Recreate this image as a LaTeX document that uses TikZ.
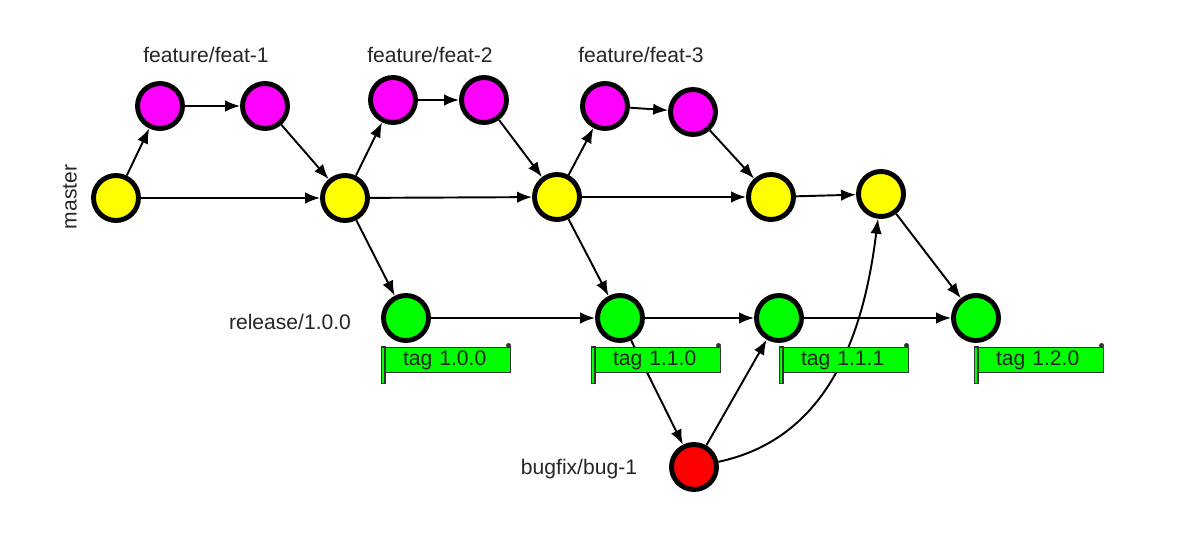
\documentclass[tikz,border=0pt]{standalone}
\usepackage{fontspec}
\setmainfont{Liberation Sans}
\usetikzlibrary{arrows.meta}
\definecolor{cy}{HTML}{FFFF00}
\definecolor{cm}{HTML}{FF00FF}
\definecolor{cg}{HTML}{00FF00}
\definecolor{cr}{HTML}{FF0000}
\tikzset{
  commit/.style={circle, draw=black, line width=2.8pt, minimum size=0.9cm, inner sep=0pt},
  mst/.style={commit, fill=cy},
  fea/.style={commit, fill=cm},
  rel/.style={commit, fill=cg},
  bug/.style={commit, fill=cr},
  edge/.style={line width=1.1pt, -{Latex[length=3mm,width=2.3mm]}},
  lbl/.style={font=\fontsize{12}{14}\selectfont, text=black!85},
  tagbox/.style={draw=black!80, line width=0.6pt, fill=cg, text width=2.5cm, minimum height=0.5cm, inner xsep=0pt, inner ysep=0pt, anchor=north west, align=left, font=\fontsize{12}{14}\selectfont, text=black!85},
}
\newcommand\tagdeco[1]{%
  \draw[black!80, line width=0.6pt, fill=cg] ([xshift=-0.07cm]#1.north west) rectangle ([yshift=-0.2cm]#1.south west);
  \fill[black!80] ([xshift=-0.05cm,yshift=0.03cm]#1.north east) circle (0.05cm);
}
\begin{document}
\begin{tikzpicture}[x=0.02cm, y=-0.02cm]
\useasboundingbox[fill=white] (0,0) rectangle (1200,540);
% master
\node[mst] (m0) at (116,198) {};
\node[mst] (m1) at (345,198) {};
\node[mst] (m2) at (557,197) {};
\node[mst] (m3) at (771,197) {};
\node[mst] (m4) at (881,194) {};
% features
\node[fea] (f1a) at (160,106) {};
\node[fea] (f1b) at (265,106) {};
\node[fea] (f2a) at (393,100) {};
\node[fea] (f2b) at (484,100) {};
\node[fea] (f3a) at (605,106) {};
\node[fea] (f3b) at (693,112) {};
% release
\node[rel] (r0) at (406,318) {};
\node[rel] (r1) at (620,318) {};
\node[rel] (r2) at (779,318) {};
\node[rel] (r3) at (976,318) {};
% bugfix
\node[bug] (b0) at (694,467) {};
% labels
\node[lbl] (lf1) at (206,55) {feature/feat-1};
\node[lbl] (lf2) at (430,55) {feature/feat-2};
\node[lbl] (lf3) at (641,55) {feature/feat-3};
\node[lbl, rotate=90] (lm) at (70,197) {master};
\node[lbl] (lr) at (290,322) {release/1.0.0};
\node[lbl] (lb) at (579,469) {bugfix/bug-1};
% edges
\draw[edge] (m0) -- (f1a);
\draw[edge] (f1a) -- (f1b);
\draw[edge] (f1b) -- (m1);
\draw[edge] (m0) -- (m1);
\draw[edge] (m1) -- (f2a);
\draw[edge] (f2a) -- (f2b);
\draw[edge] (f2b) -- (m2);
\draw[edge] (m1) -- (m2);
\draw[edge] (m1) -- (r0);
\draw[edge] (m2) -- (f3a);
\draw[edge] (f3a) -- (f3b);
\draw[edge] (f3b) -- (m3);
\draw[edge] (m2) -- (m3);
\draw[edge] (m3) -- (m4);
\draw[edge] (m2) -- (r1);
\draw[edge] (r0) -- (r1);
\draw[edge] (r1) -- (r2);
\draw[edge] (r2) -- (r3);
\draw[edge] (r1) -- (b0);
\draw[edge] (b0) -- (r2);
\draw[edge] (b0) to[out=12, in=-97] (m4);
\draw[edge] (m4) -- (r3);
% tags
\node[tagbox] (t0) at (385,347) {\hspace{0.35cm}tag 1.0.0};
\node[tagbox] (t1) at (595,347) {\hspace{0.35cm}tag 1.1.0};
\node[tagbox] (t2) at (783,347) {\hspace{0.35cm}tag 1.1.1};
\node[tagbox] (t3) at (978,347) {\hspace{0.35cm}tag 1.2.0};
\tagdeco{t0}\tagdeco{t1}\tagdeco{t2}\tagdeco{t3}
\end{tikzpicture}
\end{document}
